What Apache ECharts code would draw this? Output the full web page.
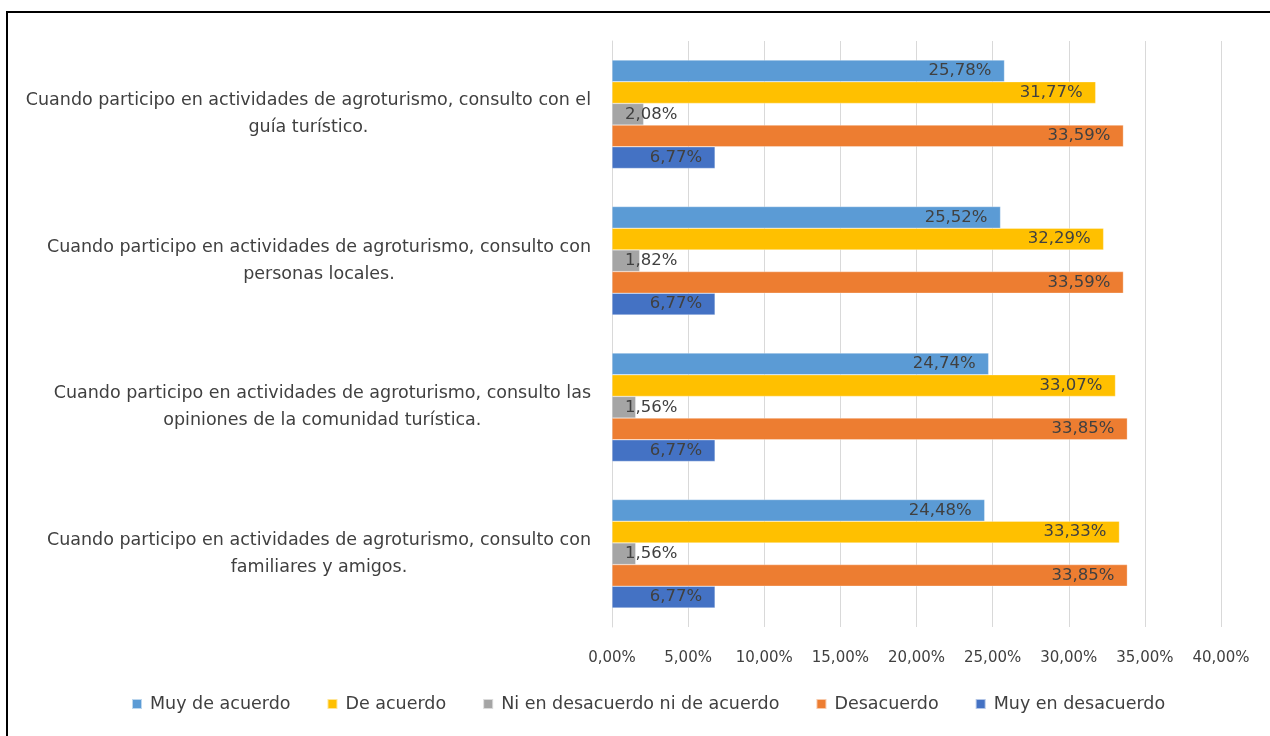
<!DOCTYPE html>
<html>
<head>
<meta charset="utf-8">
<script src="https://cdn.jsdelivr.net/npm/echarts@6/dist/echarts.min.js"></script>
<style>
  html, body { margin: 0; padding: 0; background: #fff; }
  #box { width: 1270px; height: 736px; }
</style>
</head>
<body>
<div id="box"></div>
<script>
// categories, top to bottom
const categories = [
  'Cuando participo en actividades de agroturismo, consulto con el\nguía turístico.',
  'Cuando participo en actividades de agroturismo, consulto con\npersonas locales.',
  'Cuando participo en actividades de agroturismo, consulto las\nopiniones de la comunidad turística.',
  'Cuando participo en actividades de agroturismo, consulto con\nfamiliares y amigos.'
];
const seriesNames = ['Muy de acuerdo', 'De acuerdo', 'Ni en desacuerdo ni de acuerdo', 'Desacuerdo', 'Muy en desacuerdo'];
const muyDeAcuerdo = [25.78, 25.52, 24.74, 24.48];
const deAcuerdo = [31.77, 32.29, 33.07, 33.33];
const niNi = [2.08, 1.82, 1.56, 1.56];
const desacuerdo = [33.59, 33.59, 33.85, 33.85];
const muyEnDesacuerdo = [6.77, 6.77, 6.77, 6.77];
const xTicks = [0, 5, 10, 15, 20, 25, 30, 35, 40];

const colors = ['#5B9BD5', '#FFC000', '#A5A5A5', '#ED7D31', '#4472C4'];
const font = 'DejaVu Sans';
const pct = v => v.toFixed(2).replace('.', ',') + '%';

let myecharts = echarts.init(document.getElementById('box'));

function makeSeries(name, data, pos) {
  return {
    name: name,
    type: 'bar',
    data: data,
    barGap: '0%',
    barCategoryGap: '26%',
    itemStyle: { borderColor: 'rgba(255,255,255,0.6)', borderWidth: 0.5 },
    label: {
      show: true,
      position: pos,
      distance: 13,
      color: '#404040',
      fontFamily: font,
      fontSize: 16.5,
      formatter: p => pct(p.value)
    }
  };
}

let options = {
  animation: false,
  color: colors,
  textStyle: { fontFamily: font },
  graphic: [{
    type: 'rect',
    shape: { x: 7, y: 12, width: 1320, height: 800 },
    style: { fill: 'none', stroke: '#000', lineWidth: 2 },
    silent: true
  }],
  grid: { left: 612, right: 49, top: 41, bottom: 109 },
  xAxis: {
    type: 'value',
    min: 0,
    max: 40,
    interval: 5,
    axisLine: { show: false },
    axisTick: { show: false },
    splitLine: { lineStyle: { color: '#d9d9d9', width: 1 } },
    axisLabel: {
      color: '#404040',
      fontSize: 15,
      margin: 24,
      formatter: v => xTicks.includes(v) ? pct(v) : ''
    }
  },
  yAxis: {
    type: 'category',
    inverse: true,
    data: categories,
    axisTick: { show: false },
    axisLine: { lineStyle: { color: '#d9d9d9' } },
    axisLabel: {
      margin: 21,
      color: '#404040',
      formatter: v => v.split('\n').map(s => '{c|' + s + '}').join('\n'),
      rich: {
        c: { align: 'center', fontSize: 17.5, lineHeight: 27, color: '#404040', fontFamily: font }
      }
    }
  },
  legend: {
    bottom: 18,
    left: 126,
    itemWidth: 10,
    itemHeight: 10,
    itemGap: 36,
    icon: 'rect',
    textStyle: { color: '#404040', fontSize: 17.5, padding: [0, 0, 0, 3] },
    data: seriesNames
  },
  series: [
    makeSeries(seriesNames[0], muyDeAcuerdo, 'insideRight'),
    makeSeries(seriesNames[1], deAcuerdo, 'insideRight'),
    makeSeries(seriesNames[2], niNi, 'insideLeft'),
    makeSeries(seriesNames[3], desacuerdo, 'insideRight'),
    makeSeries(seriesNames[4], muyEnDesacuerdo, 'insideRight')
  ]
};
myecharts.setOption(options);
window.onresize = function () {
  myecharts.resize();
};
</script>
</body>
</html>
